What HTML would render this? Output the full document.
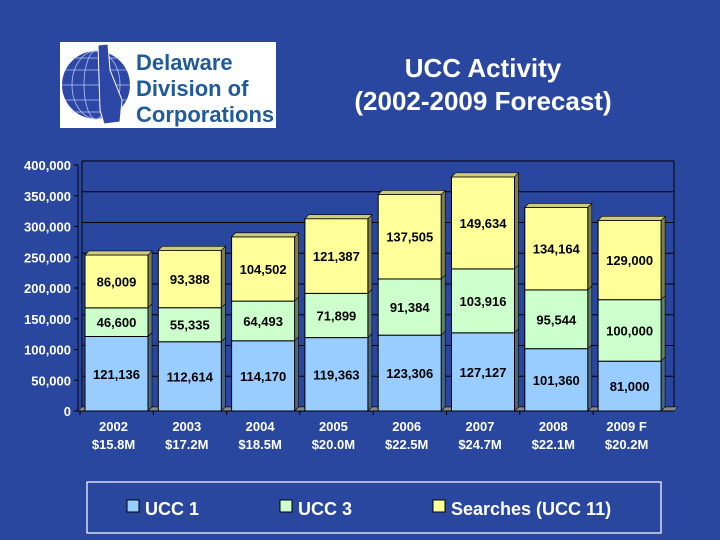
<!DOCTYPE html>
<html><head><meta charset="utf-8"><style>
html,body{margin:0;padding:0;background:#2a47a0;}
svg{display:block;font-family:"Liberation Sans",Arial,sans-serif;}
</style></head><body>
<svg id="c" width="720" height="540" viewBox="0 0 720 540">
<rect x="0" y="0" width="720" height="540" fill="#2a47a0"/>
<g>
<rect x="60" y="42" width="216" height="86" fill="#ffffff"/>
<circle cx="96" cy="85" r="34" fill="#2d47a6"/>
<g stroke="#b8c4ee" stroke-width="0.8" fill="none">
<ellipse cx="96" cy="85" rx="12" ry="34"/><ellipse cx="96" cy="85" rx="24" ry="34"/>
<line x1="62" y1="85" x2="130" y2="85"/><line x1="65" y1="70" x2="127" y2="70"/><line x1="65" y1="100" x2="127" y2="100"/><line x1="72" y1="58" x2="120" y2="58"/><line x1="72" y1="112" x2="120" y2="112"/>
</g>
<path d="M98 45 L108 44 L110 70 L122 100 L120 122 L104 124 L100 110 Z" fill="#2d47a6" stroke="#fff" stroke-width="1"/>
<text x="136" y="70" font-size="22" font-weight="bold" fill="#1f5b9a">Delaware</text>
<text x="136" y="96" font-size="22" font-weight="bold" fill="#1f5b9a">Division of</text>
<text x="136" y="122" font-size="22" font-weight="bold" fill="#1f5b9a">Corporations</text>
</g>
<text x="483" y="77" font-size="26" font-weight="bold" fill="#ffffff" text-anchor="middle">UCC Activity</text>
<text x="483" y="110" font-size="26" font-weight="bold" fill="#ffffff" text-anchor="middle">(2002-2009 Forecast)</text>
<g id="plot"></g>
<g>
<rect x="87" y="482" width="574" height="51" fill="none" stroke="#ffffff" stroke-width="1.2"/>
<rect x="127" y="500" width="12" height="12" fill="#99ccff" stroke="#000"/>
<text x="145" y="515" font-size="18" font-weight="bold" fill="#fff">UCC 1</text>
<rect x="280" y="500" width="12" height="12" fill="#ccffcc" stroke="#000"/>
<text x="298" y="515" font-size="18" font-weight="bold" fill="#fff">UCC 3</text>
<rect x="433" y="500" width="12" height="12" fill="#ffff99" stroke="#000"/>
<text x="451" y="515" font-size="18" font-weight="bold" fill="#fff">Searches (UCC 11)</text>
</g>
</svg>
<script>
const categories = ["2002","2003","2004","2005","2006","2007","2008","2009 F"];
const revenues = ["$15.8M","$17.2M","$18.5M","$20.0M","$22.5M","$24.7M","$22.1M","$20.2M"];
const ucc1 = [121136,112614,114170,119363,123306,127127,101360,81000];
const ucc3 = [46600,55335,64493,71899,91384,103916,95544,100000];
const searches = [86009,93388,104502,121387,137505,149634,134164,129000];
const yTicks = [0,50000,100000,150000,200000,250000,300000,350000,400000];

const NS="http://www.w3.org/2000/svg";
const plot=document.getElementById('plot');
const Y0=411, YMAXPX=165, YMAX=400000, X0=85, STEP=73.3, BW=63, D=4;
function y(v){return Y0-(v/YMAX)*(Y0-YMAXPX);}
function x(i){return X0+i*STEP;}
function el(t,a,p){const e=document.createElementNS(NS,t);for(const k in a)e.setAttribute(k,a[k]);(p||plot).appendChild(e);return e;}
function fmt(v){return v.toLocaleString('en-US');}

// gridlines and axis
yTicks.forEach((t,i)=>{
  const g=el('line',{x1:82,y1:y(t)-D,x2:674,y2:y(t)-D,stroke:'#000',"stroke-width":1});
  
  
  const tk=el('line',{x1:74,y1:y(t),x2:78,y2:y(t),stroke:'#000'});
  
  
  const lb=el('text',{x:71,y:y(t)+5,"text-anchor":"end","font-size":13,"font-weight":"bold",fill:"#fff"});
  lb.textContent=fmt(t);
  
  
});
const ax=el('line',{x1:78,y1:Y0,x2:78,y2:y(YMAX),stroke:'#000'});


const bw=el('line',{x1:82,y1:y(YMAX)-D,x2:82,y2:Y0-D,stroke:'#000'});


const rw=el('line',{x1:674,y1:y(YMAX)-D,x2:674,y2:Y0-D,stroke:'#000'});


const fl=el('polygon',{points:`78,${Y0} 674,${Y0} 678,${Y0-D} 82,${Y0-D}`,fill:'#8a8a8a',stroke:'#000',"stroke-width":0.5});


const xa=el('line',{x1:78,y1:Y0,x2:674,y2:Y0,stroke:'#000'});



const series=[{d:ucc1,c:'#99ccff',s:'#4d6680',n:'ucc1'},{d:ucc3,c:'#ccffcc',s:'#668066',n:'ucc3'},{d:searches,c:'#ffff99',s:'#80804d',n:'searches'}];
categories.forEach((cat,i)=>{
  const xl=x(i);
  let base=0;
  series.forEach(s=>{
    const v=s.d[i], yb=y(base), yt=y(base+v);
    const side=el('polygon',{points:`${xl+BW},${yb} ${xl+BW+D},${yb-D} ${xl+BW+D},${yt-D} ${xl+BW},${yt}`,fill:s.s,stroke:'#000',"stroke-width":0.6});
    
    
    const r=el('rect',{x:xl,y:yt,width:BW,height:yb-yt,fill:s.c,stroke:'#000',"stroke-width":1});
    
    
    const t=el('text',{x:xl+BW/2,y:(yb+yt)/2+5,"text-anchor":"middle","font-size":13,"font-weight":"bold",fill:"#000"});
    t.textContent=fmt(v);
    
    
    base+=v;
  });
  const top=y(base);
  const tp=el('polygon',{points:`${xl},${top} ${xl+D},${top-D} ${xl+BW+D},${top-D} ${xl+BW},${top}`,fill:'#cccc7a',stroke:'#000',"stroke-width":0.6});
  
  
  const tk=el('line',{x1:xl-5,y1:Y0,x2:xl-5,y2:Y0+4,stroke:'#000'});
  
  
  const l1=el('text',{x:xl+BW/2-3,y:431,"text-anchor":"middle","font-size":13,"font-weight":"bold",fill:"#fff"});
  l1.textContent=cat;
  
  
  const l2=el('text',{x:xl+BW/2-3,y:449,"text-anchor":"middle","font-size":13,"font-weight":"bold",fill:"#fff"});
  l2.textContent=revenues[i];
  
  
});
</script>
</body></html>
